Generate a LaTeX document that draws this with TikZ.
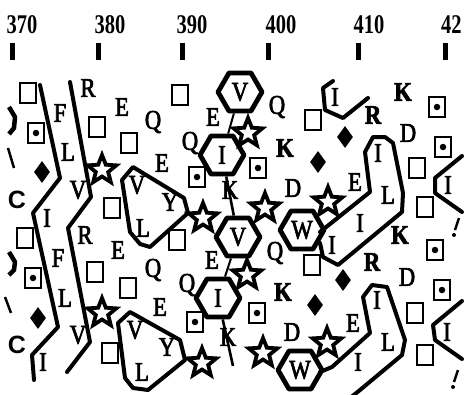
\documentclass[tikz,border=0pt]{standalone}
\usepackage{fontspec}
\usetikzlibrary{shapes.geometric}
\newfontfamily\resfont[FakeStretch=0.84, FakeBold=2.5]{Liberation Serif}
\newfontfamily\numfont[FakeStretch=0.76]{Liberation Serif}
\newfontfamily\cfont{Liberation Sans}
\begin{document}
\begin{tikzpicture}[x=1pt,y=-1pt,
  res/.style={font={\resfont\fontsize{27}{27}\selectfont}, inner sep=0pt},
  resb/.style={font={\resfont\bfseries\fontsize{27}{27}\selectfont}, inner sep=0pt},
  num/.style={font={\numfont\bfseries\fontsize{27}{27}\selectfont}, inner sep=0pt},
  tick/.style={line width=5pt},
  sq/.style={draw, line width=2pt, minimum width=16pt, minimum height=20pt, inner sep=0pt},
  dot/.style={circle, fill, minimum size=6.5pt, inner sep=0pt},
  dia/.style={diamond, fill, minimum width=16pt, minimum height=22pt, inner sep=0pt},
  starn/.style={star, star points=5, star point ratio=2.3, minimum size=30pt, draw, line width=3.8pt, line join=miter, fill=white, inner sep=0pt},
  hexn/.style={regular polygon, regular polygon sides=6, minimum size=44pt, draw, line width=4.8pt, line join=round, inner sep=0pt, font={\resfont\fontsize{27}{27}\selectfont}},
  cl/.style={line width=4pt, line join=round, line cap=round},
  link/.style={line width=2pt},
  cc/.style={font={\cfont\bfseries\fontsize{25}{25}\selectfont}, inner sep=0pt}
]
\useasboundingbox (0,0) rectangle (465,394);
\clip (0,0) rectangle (465,394);

% header
\foreach \n/\xn/\xt [count=\i] in {370/22/12, 380/110/98, 390/192/182, 400/281/268, 410/369/358}{
  \node[num] (h\i) at (\xn,25) {\n};
  \coordinate (ta\i) at (\xt,43);
  \coordinate (tb\i) at (\xt,60);
  \draw[tick] (ta\i) -- (tb\i);
}
\node[num, anchor=west] (h6) at (441,25) {42};
\coordinate (ta6) at (445,43);
\coordinate (tb6) at (445,60);
\draw[tick] (ta6) -- (tb6);

% ---------- cluster lines ----------
\coordinate (l1a) at (40,85);  \coordinate (l1b) at (60,178); \coordinate (l1c) at (33,213);
\coordinate (l1d) at (58,327); \coordinate (l1e) at (32,355); \coordinate (l1f) at (34,380);
\draw[cl] (l1a) -- (l1b) -- (l1c) -- (l1d) -- (l1e) -- (l1f);
\coordinate (l2a) at (70,82);  \coordinate (l2b) at (91,197); \coordinate (l2c) at (68,228);
\coordinate (l2d) at (90,342); \coordinate (l2e) at (67,372);
\draw[cl] (l2a) -- (l2b) -- (l2c) -- (l2d) -- (l2e);

% VYL clusters
\draw[cl] (122,180) -- (133,167) -- (184,198) -- (188,213) -- (150,247) -- (140,244) -- (130,232) -- cycle;
\draw[cl] (118,323) -- (130,312) -- (180,340) -- (185,360) -- (148,390) -- (133,388) -- (125,378) -- cycle;

% cup around I (top right)
\draw[cl] (333,81) -- (323,88) -- (325,110) -- (343,118) -- (368,98);

% IEL clusters
\draw[cl] (320,232) -- (370,192) -- (365,152) -- (373,137) -- (385,137) -- (393,143) -- (403,193) -- (402,212) -- (338,265) -- (323,257) -- (320,243);
\draw[cl] (320,372) -- (332,367) -- (370,333) -- (363,297) -- (372,285) -- (387,287) -- (405,340) -- (402,355) -- (360,390) -- (345,402);

% right I lines
\draw[cl] (462,156) -- (435,178) -- (435,193) -- (462,212);
\draw[cl] (462,301) -- (433,325) -- (435,340) -- (462,359);

% left fragments
\draw[line width=4.5pt, line join=round] (9,107) -- (15,117) -- (14,128) -- (9,134);
\draw[line width=4.5pt, line join=round] (9,252) -- (15,262) -- (14,270) -- (9,275);
\draw[line width=2.5pt] (8,148) -- (14,168);
\draw[line width=2.5pt] (5,297) -- (11,313);
\node[cc] (c1) at (17,200) {C};
\node[cc] (c2) at (17,345) {C};

% right fragments
\draw[line width=2.5pt] (459,218) -- (455,230);
\fill (454,235) circle (2pt);
\draw[line width=2.5pt] (458,370) -- (454,382);
\fill (453,387) circle (2pt);

% ---------- open squares ----------
\foreach \x/\y [count=\i] in {28/93, 25/238, 97/127, 95/272, 129/143, 128/288, 180/95, 177/240, 112/208, 110/353, 313/120, 312/265, 417/168, 415/313, 425/207, 425/355}{
  \node[sq] (s\i) at (\x,\y) {};
}
% ---------- dotted squares ----------
\foreach \x/\y [count=\i] in {36/133, 33/278, 197/177, 195/322, 258/168, 257/313, 437/107, 435/250, 443/147, 442/290}{
  \node[sq] (d\i) at (\x,\y) {};
  \node[dot] (dd\i) at (d\i.center) {};
}
% ---------- diamonds ----------
\foreach \x/\y [count=\i] in {42/172, 38/318, 345/137, 343/280, 318/162, 315/305}{
  \node[dia] (m\i) at (\x,\y) {};
}
% ---------- stars ----------
\foreach \x/\y [count=\i] in {102/170, 102/313, 203/218, 202/363, 248/133, 247/275, 265/208, 263/353, 328/202, 327/343}{
  \node[starn] (st\i) at (\x,\y) {};
}

% ---------- letters ----------
\foreach \t/\x/\y [count=\i] in {
  F/60/113, L/68/152, V/78/190, R/88/88, E/122/107, Q/153/122, E/162/163, Q/190/143, E/213/117,
  Q/277/107, D/293/188, I/335/97, D/408/133, I/378/153, E/355/182, L/388/195, I/360/223, I/332/245,
  I/448/185, I/47/218, V/137/185, Y/170/202, L/143/228,
  R/85/235, F/58/258, L/65/298, V/78/335, I/43/362, E/118/250, Q/153/270, E/160/307, Q/187/285, E/212/260,
  V/135/330, Y/167/347, L/142/372, Q/275/253, D/292/332, E/353/323, I/377/300, L/388/342, I/358/362,
  D/407/277, I/447/332}{
  \node[res] (r\i) at (\x,\y) {\t};
}
\foreach \t/\x/\y [count=\i] in {K/285/148, R/373/115, K/403/92, K/283/292, R/372/262, K/400/235}{
  \node[resb] (rb\i) at (\x,\y) {\t};
}
\node[res] (kk1) at (230,190) {K};
\node[res] (kk2) at (228,337) {K};

% ---------- hexagons ----------
\node[hexn] (vh1) at (240,92) {V};
\node[hexn] (ih1) at (222,155) {I};
\node[hexn] (wh1) at (302,230) {W};
\node[hexn] (vh2) at (238,237) {V};
\node[hexn] (ih2) at (218,298) {I};
\node[hexn] (wh2) at (300,370) {W};

\coordinate (ie2) at (233,366);
\draw[link] (vh1) -- (ih1);
\draw[link, line width=2.6pt] (ih1) -- (vh2);
\draw[link] (vh2) -- (ih2);
\draw[link, line width=2.6pt] (ih2) -- (ie2);
\end{tikzpicture}
\end{document}
